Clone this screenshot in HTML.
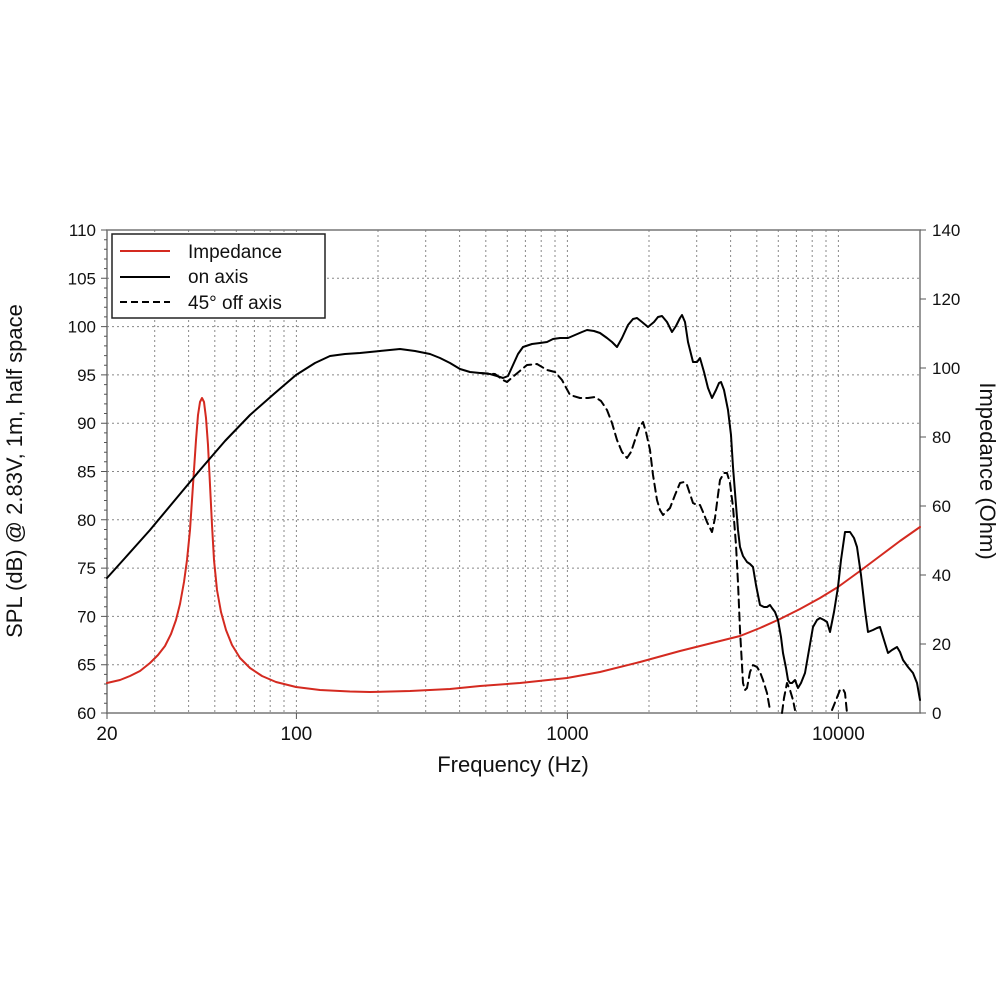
<!DOCTYPE html>
<html><head><meta charset="utf-8"><style>html,body{margin:0;padding:0;background:#fff}svg{display:block}</style></head><body>
<svg width="1000" height="1000" viewBox="0 0 1000 1000" xmlns="http://www.w3.org/2000/svg" font-family="Liberation Sans, sans-serif">
<rect width="1000" height="1000" fill="#fff"/>
<g stroke="#888" stroke-width="1" stroke-dasharray="2,3" fill="none">
<path d="M154.7 230V713M188.6 230V713M214.8 230V713M236.3 230V713M254.4 230V713M270.2 230V713M284 230V713M296.4 230V713M378 230V713M425.7 230V713M459.6 230V713M485.8 230V713M507.3 230V713M525.4 230V713M541.2 230V713M555 230V713M567.4 230V713M649 230V713M696.7 230V713M730.6 230V713M756.8 230V713M778.3 230V713M796.4 230V713M812.2 230V713M826 230V713M838.4 230V713"/>
<path d="M107 664.7H920M107 616.4H920M107 568.1H920M107 519.8H920M107 471.5H920M107 423.2H920M107 374.9H920M107 326.6H920M107 278.3H920"/>
</g>
<rect x="107" y="230" width="813" height="483" fill="none" stroke="#777" stroke-width="1.5"/>
<g stroke="#555" stroke-width="1">
<path d="M101 713H107M101 664.7H107M101 616.4H107M101 568.1H107M101 519.8H107M101 471.5H107M101 423.2H107M101 374.9H107M101 326.6H107M101 278.3H107M101 230H107"/>
<path d="M104 703.3H107M104 693.7H107M104 684H107M104 674.4H107M104 655H107M104 645.4H107M104 635.7H107M104 626.1H107M104 606.7H107M104 597.1H107M104 587.4H107M104 577.8H107M104 558.4H107M104 548.8H107M104 539.1H107M104 529.5H107M104 510.1H107M104 500.5H107M104 490.8H107M104 481.2H107M104 461.8H107M104 452.2H107M104 442.5H107M104 432.9H107M104 413.5H107M104 403.9H107M104 394.2H107M104 384.6H107M104 365.2H107M104 355.6H107M104 345.9H107M104 336.3H107M104 316.9H107M104 307.3H107M104 297.6H107M104 288H107M104 268.6H107M104 259H107M104 249.3H107M104 239.7H107"/>
<path d="M920 713H926M920 644H926M920 575H926M920 506H926M920 437H926M920 368H926M920 299H926M920 230H926"/>
<path d="M107 713V719M296.4 713V719M567.4 713V719M838.4 713V719"/>
</g>
<g font-size="17" fill="#111" text-anchor="end">
<text x="96" y="719">60</text><text x="96" y="670.7">65</text><text x="96" y="622.4">70</text><text x="96" y="574.1">75</text><text x="96" y="525.8">80</text><text x="96" y="477.5">85</text><text x="96" y="429.2">90</text><text x="96" y="380.9">95</text><text x="96" y="332.6">100</text><text x="96" y="284.3">105</text><text x="96" y="236">110</text>
</g>
<g font-size="17" fill="#111">
<text x="932" y="719">0</text><text x="932" y="650">20</text><text x="932" y="581">40</text><text x="932" y="512">60</text><text x="932" y="443">80</text><text x="932" y="374">100</text><text x="932" y="305">120</text><text x="932" y="236">140</text>
</g>
<g font-size="19" fill="#111" text-anchor="middle">
<text x="107" y="740">20</text><text x="296.4" y="740">100</text><text x="567.4" y="740">1000</text><text x="838.4" y="740">10000</text>
</g>
<text x="513" y="772" font-size="22" text-anchor="middle" fill="#111">Frequency (Hz)</text>
<text transform="translate(22,471) rotate(-90)" font-size="22" text-anchor="middle" fill="#111">SPL (dB) @ 2.83V, 1m, half space</text>
<text transform="translate(980,471) rotate(90)" font-size="22" text-anchor="middle" fill="#111">Impedance (Ohm)</text>
<g fill="none" stroke-linejoin="round" stroke-linecap="round">
<polyline stroke="#d42a20" stroke-width="2" points="107,683 120,680 130,676 140,671 150,663 158,655 165,646 171,634 176,620 180,604 184,582 187,560 190,530 192,500 194,470 196,440 198,415 200,402 202,398 204,402 206,418 208,445 210,485 212,525 214,560 217,590 221,612 226,630 232,645 240,658 250,668 262,676 276,682 296,687 320,690 350,691.5 370,692 410,691 450,689 480,686 520,683 567,678 600,672 640,662 680,651 720,641 740,636 760,628 780,619 800,609 820,598 838,587 860,571 880,556 900,541 920,527"/>
<polyline stroke="#000" stroke-width="2" stroke-dasharray="8,5" points="480,373 495,374 503,380 507,382 515,375 527,365 537,364 547,370 555,372 562,380 570,395 580,398 588,398 595,397 601,401 607,410 612,423 617,440 622,452 627,458 631,452 635,440 639,428 643,422 646,432 650,450 653,475 657,500 660,510 663,515 666,512 670,508 675,495 680,483 684,482 687,485 690,494 693,503 697,505 700,505 703,512 707,522 712,532 715,518 718,495 720,480 724,473 727,473 730,483 733,507 736,545 738,583 740,630 743,683 745,690 747,688 750,672 753,665 757,667 760,672 763,680 767,693 770,710"/>
<polyline stroke="#000" stroke-width="2" stroke-dasharray="8,5" points="782,713 784,698 787,683 790,690 793,700 795,710"/>
<polyline stroke="#000" stroke-width="2" stroke-dasharray="8,5" points="832,710 836,700 840,690 843,689 845,693 846,703 847,713"/>
<polyline stroke="#000" stroke-width="2" points="107,578 125,558 150,530 175,500 200,470 225,441 250,415 275,393 296,375 315,363 330,356 345,354 360,353 380,351 400,349 415,351 430,354 440,358 450,363 460,369 470,372 480,373 490,374 497,376 503,378 508,376 513,365 518,354 523,347 532,344 540,343 547,342 553,339 560,338 568,338 575,335 582,332 587,330 594,331 600,333 607,338 612,342 617,347 622,338 628,325 633,319 637,318 642,322 648,327 654,322 658,317 662,316 667,322 672,332 676,326 680,318 682,315 685,322 688,342 693,362 697,362 700,358 704,372 708,388 712,398 716,390 719,383 721,382 724,390 728,410 731,435 733,467 736,505 738,530 740,547 743,556 747,562 750,564 753,567 756,585 760,605 764,607 767,607 770,605 772,608 775,612 778,620 781,637 783,653 786,668 788,680 790,683 792,683 795,680 798,688 801,683 805,673 809,650 813,627 817,620 820,618 824,620 827,622 830,632 834,612 838,587 841,560 845,532 850,532 854,538 857,547 861,575 865,610 868,632 873,630 877,628 880,627 884,640 888,653 892,650 897,647 900,652 903,660 908,667 913,673 917,683 920,700"/>
</g>
<rect x="112" y="234" width="213" height="84" fill="#fff" stroke="#222" stroke-width="1.5"/>
<line x1="120" y1="251" x2="170" y2="251" stroke="#d42a20" stroke-width="2"/>
<line x1="120" y1="277" x2="170" y2="277" stroke="#000" stroke-width="2"/>
<line x1="120" y1="302" x2="170" y2="302" stroke="#000" stroke-width="2" stroke-dasharray="7,4"/>
<g font-size="19" fill="#111">
<text x="188" y="258">Impedance</text><text x="188" y="283">on axis</text><text x="188" y="309">45° off axis</text>
</g>
</svg>
</body></html>
